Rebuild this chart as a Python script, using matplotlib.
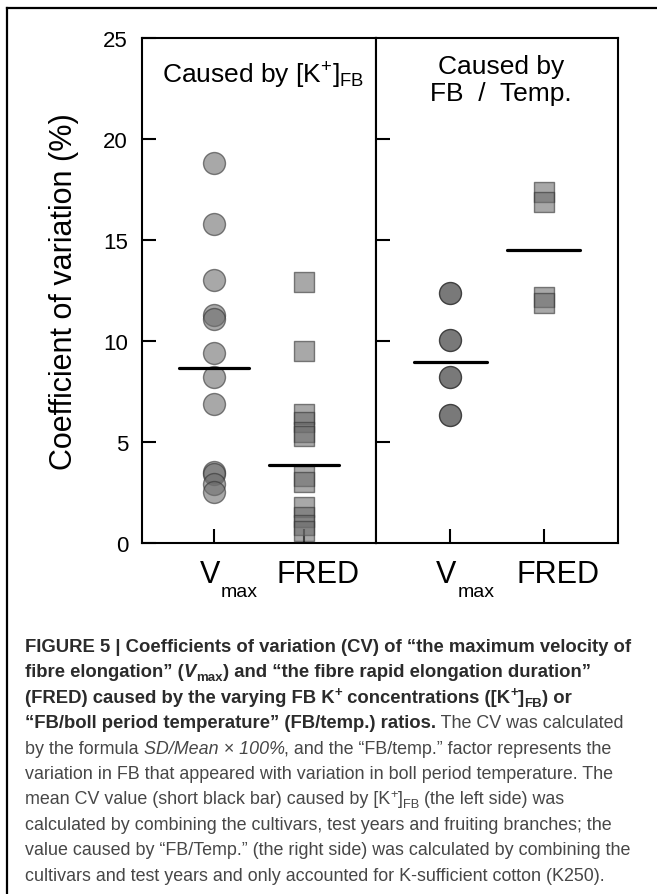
import matplotlib
matplotlib.use("Agg")
import matplotlib.pyplot as plt
from matplotlib.lines import Line2D

plt.rcParams['font.family'] = ['Liberation Sans', 'DejaVu Sans']
plt.rcParams['mathtext.fontset'] = 'custom'
plt.rcParams['mathtext.rm'] = 'Liberation Sans'
plt.rcParams['mathtext.default'] = 'regular'

# CV values (%)
k_vmax = [18.8, 15.8, 13.0, 11.3, 11.1, 9.4, 8.2, 6.9, 3.5, 3.4, 2.9, 2.5]
k_fred = [12.9, 9.5, 6.4, 6.0, 5.5, 5.3, 3.3, 3.0, 1.8, 1.3, 0.9, 0.6]
t_vmax = [12.4, 10.05, 8.2, 6.35]
t_fred = [17.4, 16.9, 12.2, 11.9]
# mean CV (short black bars)
k_means = [8.66, 3.86]
t_means = [8.96, 14.5]

fig = plt.figure(figsize=(6.57, 8.95), dpi=100)

# frame around the figure (left and top edges of the page box)
fig.add_artist(Line2D([0.011, 0.011], [0.0, 0.99], color='black', lw=1.6))
fig.add_artist(Line2D([0.011, 1.0], [0.99, 0.99], color='black', lw=1.6))

ax1 = fig.add_axes([0.2161, 0.3922, 0.3562, 0.5642])
ax2 = fig.add_axes([0.5723, 0.3922, 0.3683, 0.5642])

def draw_panel(ax, vmax, fred, means, circle_fc, circle_alpha):
    ax.scatter([0] * len(vmax), vmax, s=250, marker='o', facecolor=circle_fc,
               edgecolor='#333333', linewidth=1.0, alpha=circle_alpha, zorder=3)
    ax.scatter([1] * len(fred), fred, s=220, marker='s', facecolor='#6e6e6e',
               edgecolor='#333333', linewidth=1.0, alpha=0.6, zorder=3)
    for i, m in enumerate(means):
        ax.plot([i - 0.39, i + 0.39], [m, m], color='black', lw=2.3,
                solid_capstyle='round', zorder=4)
    ax.set_xlim(-0.8, 1.8)
    ax.set_ylim(0, 25)
    ax.set_xticks([0, 1])
    ax.set_xticklabels([])
    ax.tick_params(axis='x', direction='in', length=10, width=1.5)
    ax.tick_params(axis='y', direction='in', length=10, width=1.5, pad=10,
                   labelsize=16, right=False)
    for sp in ax.spines.values():
        sp.set_linewidth(1.5)
    # category labels, set a little off the ticks as in the original
    tr = ax.get_xaxis_transform()
    ax.text(-0.045, -0.077, 'V', transform=tr, fontsize=22, ha='center', va='baseline')
    ax.text(0.075, -0.105, 'max', transform=tr, fontsize=14, ha='left', va='baseline')
    ax.text(1.155, -0.077, 'FRED', transform=tr, fontsize=22, ha='center', va='baseline')

draw_panel(ax1, k_vmax, k_fred, k_means, '#6e6e6e', 0.6)
draw_panel(ax2, t_vmax, t_fred, t_means, '#6a6a6a', 0.9)

ax1.set_yticks([0, 5, 10, 15, 20, 25])
ax2.set_yticks([5, 10, 15, 20])
ax2.set_yticklabels([])

ax1.set_ylabel('Coefficient of variation (%)', fontsize=22)
ax1.yaxis.set_label_coords(-0.27, 0.5)

ax1.text(0.085, 0.911, r'Caused by [K$^{+}$]$_{FB}$', transform=ax1.transAxes,
         fontsize=19, ha='left', va='baseline')
ax2.text(0.517, 0.931, 'Caused by', transform=ax2.transAxes,
         fontsize=19, ha='center', va='baseline')
ax2.text(0.517, 0.877, 'FB  /  Temp.', transform=ax2.transAxes,
         fontsize=19, ha='center', va='baseline')

# caption, drawn piece by piece so bold / italic / sub / superscripts line up
caption = [
    [("FIGURE 5 | Coefficients of variation (CV) of \u201cthe maximum velocity of", 'b')],
    [("fibre elongation\u201d (", 'b'), ("V", 'bi'), ("max", 'bsub'),
     (") and \u201cthe fibre rapid elongation duration\u201d", 'b')],
    [("(FRED) caused by the varying FB K", 'b'), ("+", 'bsup'),
     (" concentrations ([K", 'b'), ("+", 'bsup'), ("]", 'b'), ("FB", 'bsub'), (") or", 'b')],
    [("\u201cFB/boll period temperature\u201d (FB/temp.) ratios.", 'b'),
     (" The CV was calculated", 'r')],
    [("by the formula ", 'r'), ("SD/Mean \u00d7 100%", 'i'),
     (", and the \u201cFB/temp.\u201d factor represents the", 'r')],
    [("variation in FB that appeared with variation in boll period temperature. The", 'r')],
    [("mean CV value (short black bar) caused by [K", 'r'), ("+", 'sup'), ("]", 'r'),
     ("FB", 'sub'), (" (the left side) was", 'r')],
    [("calculated by combining the cultivars, test years and fruiting branches; the", 'r')],
    [("value caused by \u201cFB/Temp.\u201d (the right side) was calculated by combining the", 'r')],
    [("cultivars and test years and only accounted for K-sufficient cotton (K250).", 'r')],
]

bold_size = 13.3
reg_size = 12.9
renderer = fig.canvas.get_renderer()
x0 = 25 / 657
y0 = 1 - 652 / 895
dy = 25.4 / 895
for n, line in enumerate(caption):
    x = x0
    yb = y0 - n * dy
    for txt, st in line:
        bold = st.startswith('b')
        weight = 'bold' if bold else 'normal'
        style = 'italic' if st in ('bi', 'i') else 'normal'
        size = bold_size if bold else reg_size
        off = 0
        if st.endswith('sub'):
            size *= 0.72
            off = -4 / 895
        elif st.endswith('sup'):
            size *= 0.72
            off = 6.5 / 895
        color = '#2b2b2b' if bold else '#474747'
        t = fig.text(x, yb + off, txt, fontsize=size, fontweight=weight,
                     fontstyle=style, color=color, ha='left', va='baseline')
        bb = t.get_window_extent(renderer=renderer)
        x += bb.width / fig.bbox.width

fig.savefig('out.png', dpi=100)
